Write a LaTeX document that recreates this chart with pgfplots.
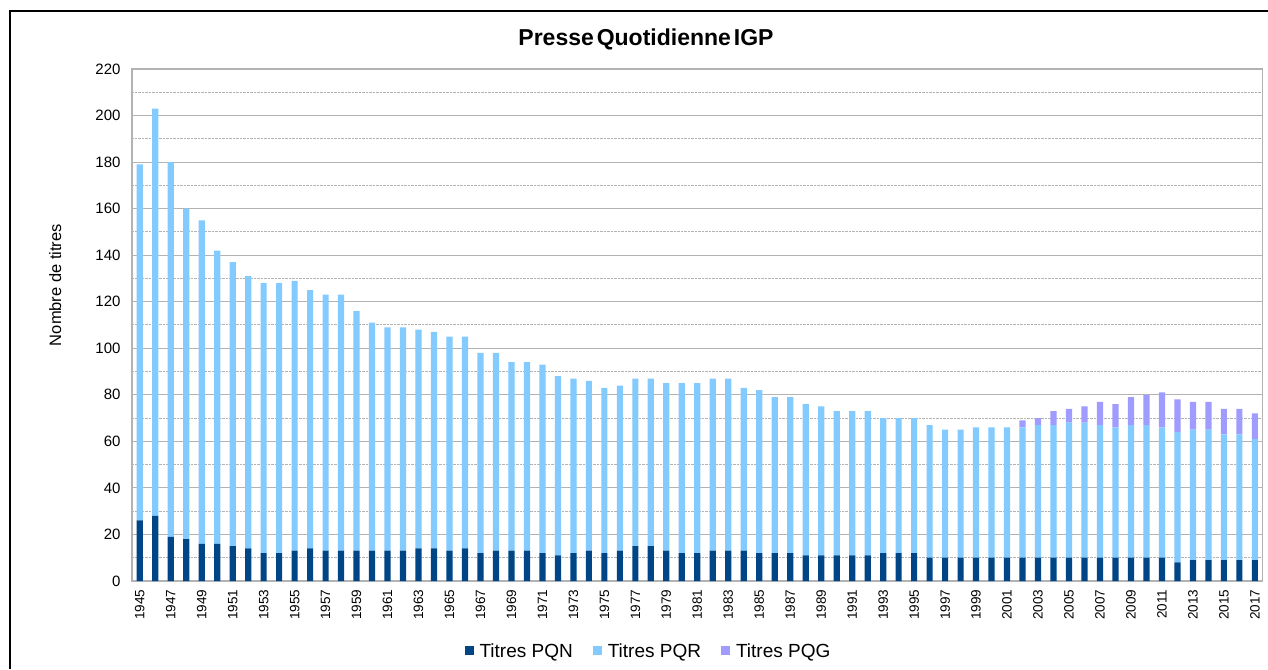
\documentclass[border=0pt]{standalone}
\usepackage{fontspec}
\setmainfont{Liberation Sans}
\usepackage{pgfplots}
\usepackage{pgfplotstable}
\pgfplotsset{compat=1.18}
\definecolor{pqn}{HTML}{004586}
\definecolor{pqr}{HTML}{83CAFF}
\definecolor{pqg}{HTML}{9F9BFF}
\definecolor{gridgray}{HTML}{B3B3B3}
\pgfplotstableread{
x year pqn pqr pqg
0 1945 26 153 0
1 1946 28 175 0
2 1947 19 161 0
3 1948 18 142 0
4 1949 16 139 0
5 1950 16 126 0
6 1951 15 122 0
7 1952 14 117 0
8 1953 12 116 0
9 1954 12 116 0
10 1955 13 116 0
11 1956 14 111 0
12 1957 13 110 0
13 1958 13 110 0
14 1959 13 103 0
15 1960 13 98 0
16 1961 13 96 0
17 1962 13 96 0
18 1963 14 94 0
19 1964 14 93 0
20 1965 13 92 0
21 1966 14 91 0
22 1967 12 86 0
23 1968 13 85 0
24 1969 13 81 0
25 1970 13 81 0
26 1971 12 81 0
27 1972 11 77 0
28 1973 12 75 0
29 1974 13 73 0
30 1975 12 71 0
31 1976 13 71 0
32 1977 15 72 0
33 1978 15 72 0
34 1979 13 72 0
35 1980 12 73 0
36 1981 12 73 0
37 1982 13 74 0
38 1983 13 74 0
39 1984 13 70 0
40 1985 12 70 0
41 1986 12 67 0
42 1987 12 67 0
43 1988 11 65 0
44 1989 11 64 0
45 1990 11 62 0
46 1991 11 62 0
47 1992 11 62 0
48 1993 12 58 0
49 1994 12 58 0
50 1995 12 58 0
51 1996 10 57 0
52 1997 10 55 0
53 1998 10 55 0
54 1999 10 56 0
55 2000 10 56 0
56 2001 10 56 0
57 2002 10 56 3
58 2003 10 57 3
59 2004 10 57 6
60 2005 10 58 6
61 2006 10 58 7
62 2007 10 57 10
63 2008 10 56 10
64 2009 10 57 12
65 2010 10 57 13
66 2011 10 56 15
67 2012 8 56 14
68 2013 9 56 12
69 2014 9 56 12
70 2015 9 54 11
71 2016 9 54 11
72 2017 9 52 11
}\data
\begin{document}
\begin{tikzpicture}
\useasboundingbox (0pt,0pt) rectangle (1268pt,669pt);
\draw[line width=1.2pt] (10pt,0pt) -- (10pt,658pt) -- (1268pt,658pt);
\begin{axis}[
  at={(132pt,88pt)}, anchor=south west,
  scale only axis, width=1130.7pt, height=512pt,
  ybar stacked, bar width=0.4,
  every axis plot post/.append style={legend image code/.code={\fill[##1] (0pt,-4.5pt) rectangle (9pt,4.5pt); \path (13pt,0pt);}},
  xmin=-0.5, xmax=72.5, ymin=0, ymax=220,
  xtick={0,2,...,72},
  xticklabels={1945,1947,1949,1951,1953,1955,1957,1959,1961,1963,1965,1967,1969,1971,1973,1975,1977,1979,1981,1983,1985,1987,1989,1991,1993,1995,1997,1999,2001,2003,2005,2007,2009,2011,2013,2015,2017},
  xticklabel style={rotate=90, anchor=east, xshift=-5pt, font=\fontsize{13.5}{16}\selectfont},
  ytick={0,20,...,220}, minor ytick={10,30,...,210},
  yticklabel style={xshift=-8pt, font=\fontsize{15}{18}\selectfont},
  /pgf/number format/assume math mode=true,
  ymajorgrids, yminorgrids,
  major grid style={gridgray, line width=1pt},
  minor grid style={gridgray, densely dotted, line width=1pt},
  axis line style={gridgray, line width=1.3pt},
  major tick length=0pt, minor tick length=0pt,
  title={Presse\hspace{-0.15em} Quotidienne\hspace{-0.15em} IGP},
  title style={at={(axis description cs:0.4546,1.047)}, anchor=center, yshift=0pt, font=\bfseries\fontsize{23}{27}\selectfont},
  ylabel={Nombre de titres},
  every axis y label/.style={at={(axis description cs:-0.068,0.578)}, rotate=90, anchor=center, font=\fontsize{16.5}{20}\selectfont},
  legend columns=3,
  legend style={at={(axis description cs:0.4568,-0.1367)}, anchor=center, draw=none, fill=none,
    font=\fontsize{19}{22}\selectfont, /tikz/every even column/.append style={column sep=18pt}},
  legend cell align=left,
]
\addplot[fill=pqn, draw=none] table[x=x, y=pqn]{\data};
\addplot[fill=pqr, draw=none] table[x=x, y=pqr]{\data};
\addplot[fill=pqg, draw=none] table[x=x, y=pqg]{\data};
\legend{Titres PQN, Titres PQR, Titres PQG}
\end{axis}
\end{tikzpicture}
\end{document}
